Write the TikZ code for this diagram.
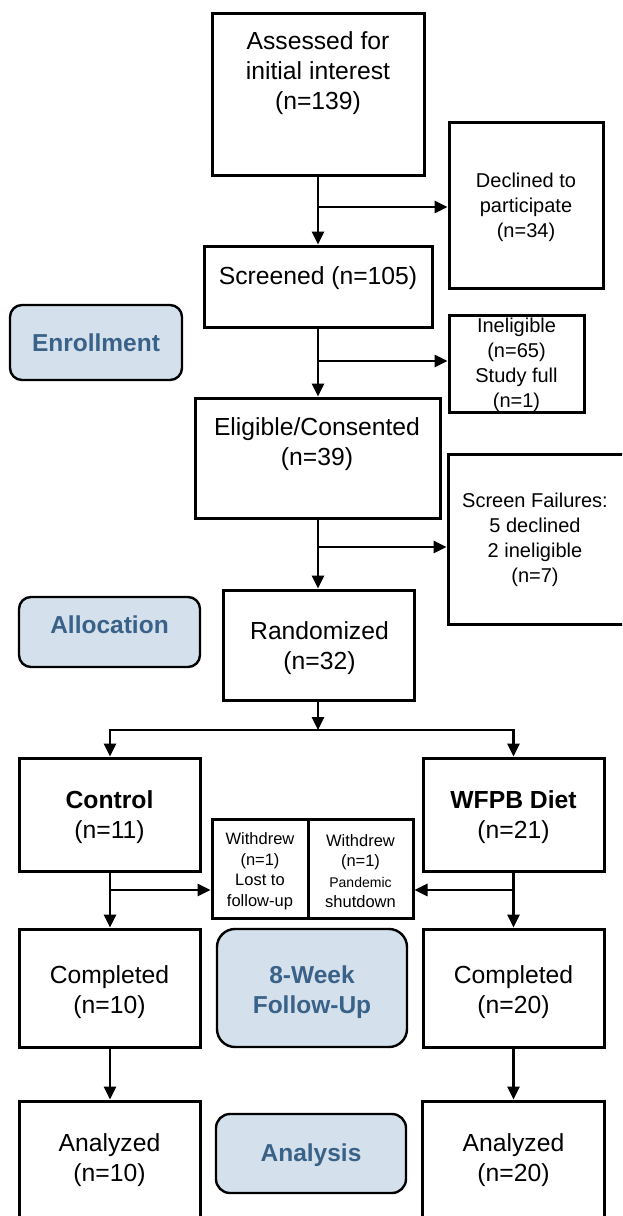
\documentclass[tikz,border=0pt]{standalone}
\usepackage{fontspec}
\setmainfont{Liberation Sans}
\usetikzlibrary{arrows.meta}
\definecolor{lblfill}{HTML}{D4E1ED}
\definecolor{lbltext}{HTML}{3A6288}
\begin{document}
\begin{tikzpicture}[x=1pt,y=-1pt,
  box/.style={draw, line width=3pt, rectangle, inner sep=0pt},
  lbl/.style={draw, line width=2.4pt, rounded corners=12pt, fill=lblfill, inner sep=0pt},
  mtxt/.style={align=center, font=\fontsize{24.7}{30}\selectfont, inner sep=0pt},
  stxt/.style={align=center, font=\fontsize{20}{25}\selectfont, inner sep=0pt},
  wtxt/.style={align=center, font=\fontsize{16.5}{20.5}\selectfont, inner sep=0pt},
  ltxt/.style={align=center, font=\bfseries\fontsize{24.5}{30}\selectfont, text=lbltext, inner sep=0pt},
  arr/.style={line width=2.7pt, -{Triangle[length=13pt,width=12pt]}},
  ln/.style={line width=2.7pt}]
\useasboundingbox (0,0) rectangle (622,1216);
\clip (0,0) rectangle (622,1216);

% boxes
\node[box, minimum width=212pt, minimum height=162pt] (assess) at (318,94) {};
\node[box, minimum width=154pt, minimum height=166pt] (declined) at (526,205) {};
\node[box, minimum width=228pt, minimum height=81pt] (screened) at (318,286.5) {};
\node[lbl, minimum width=172pt, minimum height=75pt] (enroll) at (96,342.5) {};
\node[box, minimum width=135pt, minimum height=97pt] (inelig) at (516.5,363.5) {};
\node[box, minimum width=245pt, minimum height=120pt] (eligible) at (317.5,458) {};
\node[box, minimum width=182pt, minimum height=170pt] (sfail) at (539,539) {};
\node[lbl, minimum width=181pt, minimum height=70pt] (alloc) at (109.5,632) {};
\node[box, minimum width=191pt, minimum height=110pt] (random) at (319,645) {};
\node[box, minimum width=181pt, minimum height=113pt] (control) at (109.5,814.5) {};
\node[box, minimum width=181pt, minimum height=113pt] (wfpb) at (513.5,814.5) {};
\node[box, minimum width=96pt, minimum height=99pt] (wd1) at (260,868.5) {};
\node[box, minimum width=105pt, minimum height=99pt] (wd2) at (360.5,868.5) {};
\node[box, minimum width=181pt, minimum height=118pt] (comp1) at (109.5,988) {};
\node[lbl, rounded corners=18pt, minimum width=190pt, minimum height=118pt] (follow) at (312,988) {};
\node[box, minimum width=181pt, minimum height=118pt] (comp2) at (513.5,988) {};
\node[box, minimum width=181pt, minimum height=129pt] (anal1) at (109.5,1165.5) {};
\node[lbl, rounded corners=14pt, minimum width=190pt, minimum height=79pt] (analysis) at (311,1153.5) {};
\node[box, minimum width=182pt, minimum height=129pt] (anal2) at (513,1165.5) {};

% texts
\node[mtxt] (assess-t) at (318,73) {Assessed for\\initial interest\\(n=139)};
\node[stxt] (declined-t) at (526,207) {Declined to\\participate\\(n=34)};
\node[mtxt] (screened-t) at (318,278) {Screened (n=105)};
\node[ltxt] (enroll-t) at (96,343) {Enrollment};
\node[stxt] (inelig-t) at (516.5,365) {Ineligible\\(n=65)\\Study full\\(n=1)};
\node[mtxt] (eligible-t) at (317,444) {Eligible/Consented\\(n=39)};
\node[stxt] (sfail-t) at (535,540) {Screen Failures:\\5 declined\\2 ineligible\\(n=7)};
\node[ltxt] (alloc-t) at (109.5,625) {Allocation};
\node[mtxt] (random-t) at (319.5,648) {Randomized\\(n=32)};
\node[mtxt] (control-t) at (109.5,817) {\textbf{Control}\\(n=11)};
\node[mtxt] (wfpb-t) at (513.5,817) {\textbf{WFPB Diet}\\(n=21)};
\node[wtxt] (wd1-t) at (260,871) {Withdrew\\(n=1)\\Lost to\\follow-up};
\node[wtxt] (wd2-t) at (360.5,871) {Withdrew\\(n=1)\\{\fontsize{14}{20.5}\selectfont Pandemic}\\shutdown};
\node[mtxt] (comp1-t) at (109.5,992) {Completed\\(n=10)};
\node[ltxt] (follow-t) at (312,992) {8-Week\\Follow-Up};
\node[mtxt] (comp2-t) at (513.5,992) {Completed\\(n=20)};
\node[mtxt] (anal1-t) at (109.5,1160) {Analyzed\\(n=10)};
\node[ltxt] (analysis-t) at (311,1155) {Analysis};
\node[mtxt] (anal2-t) at (513.5,1160) {Analyzed\\(n=20)};

% connectors
\coordinate (b1) at (318,207);
\coordinate (b2) at (318,361);
\coordinate (b3) at (318,547);
\coordinate (junc) at (318,730);
\coordinate (b4) at (110,890);
\coordinate (b5) at (513.5,890);

\draw[arr] (assess.south) -- (screened.north);
\draw[arr] (b1) -- (b1 -| declined.west);
\draw[arr] (screened.south) -- (screened.south |- eligible.north);
\draw[arr] (b2) -- (b2 -| inelig.west);
\draw[arr] (b2 |- eligible.south) -- (b2 |- random.north);
\draw[arr] (b3) -- (b3 -| sfail.west);
\draw[arr] (junc |- random.south) -- (junc);
\draw[arr] (junc) -| (control.north -| b4);
\draw[arr] (junc) -| (wfpb.north -| b5);
\draw[arr] (b4 |- control.south) -- (b4 |- comp1.north);
\draw[arr] (b4) -- (b4 -| wd1.west);
\draw[arr] (b5 |- wfpb.south) -- (b5 |- comp2.north);
\draw[arr] (b5) -- (b5 -| wd2.east);
\draw[arr] (b4 |- comp1.south) -- (b4 |- anal1.north);
\draw[arr] (b5 |- comp2.south) -- (b5 |- anal2.north);
\end{tikzpicture}
\end{document}
